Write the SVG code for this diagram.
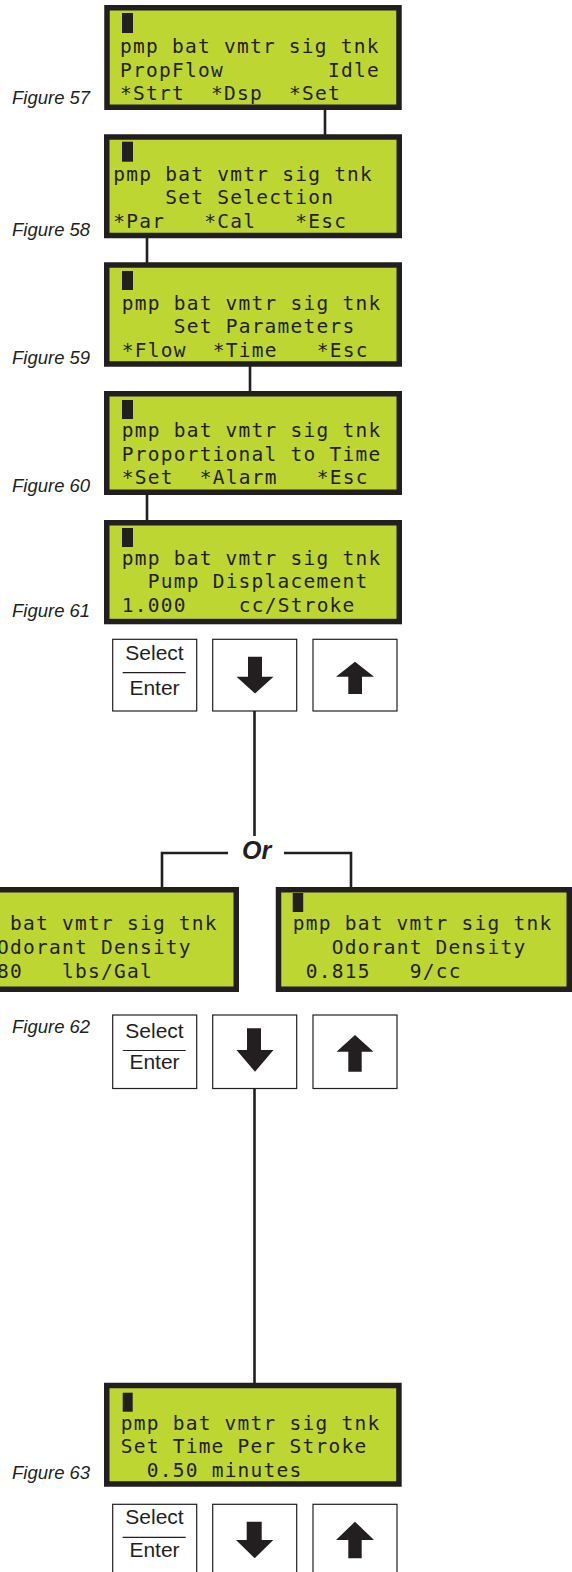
<svg xmlns="http://www.w3.org/2000/svg" width="572" height="1572" viewBox="0 0 572 1572">
<style>
.lcd{fill:#bdd631;stroke:#231f20;stroke-width:5.5}
.cur{fill:#231f20}
.t{font-family:"DejaVu Sans Mono",monospace;font-size:19.5px;letter-spacing:1.25px;fill:#231f20}
.fig{font-family:"Liberation Sans",Arial,sans-serif;font-style:italic;font-size:18.5px;fill:#231f20}
.btn{fill:#fff;stroke:#231f20;stroke-width:1.2}
.bt{font-family:"Liberation Sans",Arial,sans-serif;font-size:21px;fill:#231f20;text-anchor:middle}
.div{stroke:#231f20;stroke-width:1.2}
.arr{fill:#231f20}
.conn line,.conn polyline{stroke:#231f20;stroke-width:2.6;fill:none}
.or{font-family:"Liberation Sans",Arial,sans-serif;font-style:italic;font-weight:bold;font-size:25px;fill:#231f20}
</style>

<g id="connectors" class="conn">
  <line x1="325" y1="110" x2="325" y2="135"/>
  <line x1="147" y1="238" x2="147" y2="263"/>
  <line x1="250" y1="366" x2="250" y2="392"/>
  <line x1="147" y1="495" x2="147" y2="521"/>
  <line x1="254.5" y1="711" x2="254.5" y2="836"/>
  <polyline points="228,853 162,853 162,888"/>
  <polyline points="284,853 351,853 351,888"/>
  <line x1="254.5" y1="1088" x2="254.5" y2="1384"/>
  <text class="or" x="242" y="859">Or</text>
</g>

<g id="lcd57">
  <rect class="lcd" x="107" y="7.75" width="292" height="99.5"/>
  <rect class="cur" x="122" y="13" width="11" height="20"/>
  <text class="t" y="53.3"><tspan x="120">pmp bat vmtr sig tnk</tspan></text>
  <text class="t" y="77.3"><tspan x="120">PropFlow</tspan><tspan x="328">Idle</tspan></text>
  <text class="t" y="100"><tspan x="120">*Strt</tspan><tspan x="211">*Dsp</tspan><tspan x="289">*Set</tspan></text>
  <text class="fig" x="12" y="104">Figure 57</text>
</g>

<g id="lcd58">
  <rect class="lcd" x="106.75" y="137" width="292.5" height="98.5"/>
  <rect class="cur" x="122" y="141.7" width="11" height="20"/>
  <text class="t" y="181"><tspan x="113.3">pmp bat vmtr sig tnk</tspan></text>
  <text class="t" y="204.3"><tspan x="165.3">Set Selection</tspan></text>
  <text class="t" y="227.7"><tspan x="113.3">*Par</tspan><tspan x="204.3">*Cal</tspan><tspan x="295.3">*Esc</tspan></text>
  <text class="fig" x="12" y="236">Figure 58</text>
</g>

<g id="lcd59">
  <rect class="lcd" x="106.75" y="265" width="292.5" height="99"/>
  <rect class="cur" x="122" y="271" width="11" height="19"/>
  <text class="t" y="310"><tspan x="121.7">pmp bat vmtr sig tnk</tspan></text>
  <text class="t" y="333.3"><tspan x="173.7">Set Parameters</tspan></text>
  <text class="t" y="356.7"><tspan x="121.7">*Flow</tspan><tspan x="212.7">*Time</tspan><tspan x="316.7">*Esc</tspan></text>
  <text class="fig" x="12" y="364">Figure 59</text>
</g>

<g id="lcd60">
  <rect class="lcd" x="106.75" y="393.75" width="292.5" height="98.5"/>
  <rect class="cur" x="122" y="400" width="11" height="19"/>
  <text class="t" y="437"><tspan x="121.7">pmp bat vmtr sig tnk</tspan></text>
  <text class="t" y="460.5"><tspan x="121.7">Proportional to Time</tspan></text>
  <text class="t" y="484"><tspan x="121.7">*Set</tspan><tspan x="199.7">*Alarm</tspan><tspan x="316.7">*Esc</tspan></text>
  <text class="fig" x="12" y="492">Figure 60</text>
</g>

<g id="lcd61">
  <rect class="lcd" x="106.75" y="522.75" width="292.5" height="98.8"/>
  <rect class="cur" x="122" y="528" width="11" height="19"/>
  <text class="t" y="565"><tspan x="121.7">pmp bat vmtr sig tnk</tspan></text>
  <text class="t" y="588"><tspan x="147.7">Pump Displacement</tspan></text>
  <text class="t" y="611.7"><tspan x="121.7">1.000</tspan><tspan x="238.7">cc/Stroke</tspan></text>
  <text class="fig" x="12" y="617">Figure 61</text>
</g>

<g id="buttons1">
  <rect class="btn" x="112.7" y="639.3" width="84" height="71.7"/>
  <text class="bt" x="154.5" y="660">Select</text>
  <line class="div" x1="122.7" y1="672.7" x2="185.7" y2="672.7"/>
  <text class="bt" x="154.5" y="695">Enter</text>
  <rect class="btn" x="212.7" y="639.3" width="84" height="71.7"/>
  <polygon class="arr" points="248,656.7 262,656.7 262,676.7 273.5,676.7 255,693.5 236.5,676.7 248,676.7"/>
  <rect class="btn" x="313" y="639.3" width="84" height="71.7"/>
  <polygon class="arr" points="355,661.7 374,676.7 362,676.7 362,694 348.3,694 348.3,676.7 336,676.7"/>
</g>

<g id="lcd62a">
  <rect class="lcd" x="-56.25" y="889.75" width="292.5" height="99.5"/>
  <text class="t" y="930"><tspan x="10">bat vmtr sig tnk</tspan></text>
  <text class="t" y="954"><tspan x="-3">Odorant Density</tspan></text>
  <text class="t" y="978"><tspan x="-3">80</tspan><tspan x="62">lbs/Gal</tspan></text>
</g>

<g id="lcd62b">
  <rect class="lcd" x="278.5" y="889.75" width="290.75" height="99.5"/>
  <rect class="cur" x="292.7" y="893" width="10.5" height="19"/>
  <text class="t" y="930"><tspan x="292.7">pmp bat vmtr sig tnk</tspan></text>
  <text class="t" y="954"><tspan x="331.7">Odorant Density</tspan></text>
  <text class="t" y="978"><tspan x="305.7">0.815</tspan><tspan x="409.7">9/cc</tspan></text>
</g>

<g id="buttons2">
  <text class="fig" x="12" y="1033">Figure 62</text>
  <rect class="btn" x="112.7" y="1015" width="84" height="73.5"/>
  <text class="bt" x="154.5" y="1038">Select</text>
  <line class="div" x1="122.7" y1="1050.5" x2="185.7" y2="1050.5"/>
  <text class="bt" x="154.5" y="1069">Enter</text>
  <rect class="btn" x="212.7" y="1015" width="84" height="73.5"/>
  <polygon class="arr" points="247,1028.3 261,1028.3 261,1050 273.5,1050 255,1071.7 236.5,1050 247,1050"/>
  <rect class="btn" x="313" y="1015" width="84" height="73.5"/>
  <polygon class="arr" points="355,1035 373.5,1051.7 361.7,1051.7 361.7,1071.7 348.3,1071.7 348.3,1051.7 336.5,1051.7"/>
</g>

<g id="lcd63">
  <rect class="lcd" x="106.75" y="1385.5" width="292.2" height="98.5"/>
  <rect class="cur" x="122.7" y="1392.7" width="10" height="19"/>
  <text class="t" y="1430"><tspan x="120.7">pmp bat vmtr sig tnk</tspan></text>
  <text class="t" y="1453.3"><tspan x="120.7">Set Time Per Stroke</tspan></text>
  <text class="t" y="1476.7"><tspan x="146.7">0.50 minutes</tspan></text>
  <text class="fig" x="12" y="1479">Figure 63</text>
</g>

<g id="buttons3">
  <rect class="btn" x="112.7" y="1504.3" width="84" height="72"/>
  <text class="bt" x="154.5" y="1524">Select</text>
  <line class="div" x1="122.7" y1="1537.3" x2="185.7" y2="1537.3"/>
  <text class="bt" x="154.5" y="1557.3">Enter</text>
  <rect class="btn" x="212.7" y="1504.3" width="84" height="72"/>
  <polygon class="arr" points="246.7,1521.7 261.7,1521.7 261.7,1540 273.3,1540 254.7,1558.3 236,1540 246.7,1540"/>
  <rect class="btn" x="313" y="1504.3" width="84" height="72"/>
  <polygon class="arr" points="355,1521.7 374,1540 361.7,1540 361.7,1558.3 348.3,1558.3 348.3,1540 336,1540"/>
</g>
</svg>
